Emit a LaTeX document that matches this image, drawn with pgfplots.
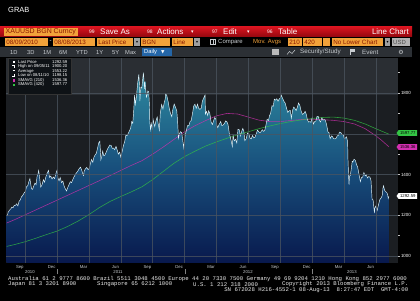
\documentclass[border=0pt]{standalone}
\usepackage{pgfplots}
\usepackage{pgfplotstable}
\pgfplotsset{compat=1.18}
\usepackage{fontspec}
\setmainfont{Liberation Sans}
\newfontfamily\mono{Liberation Mono}
\newfontfamily\dv{DejaVu Sans}
\definecolor{bbredT}{HTML}{D8141F}
\definecolor{bbredB}{HTML}{96080F}
\definecolor{bborange}{HTML}{F2A23A}
\definecolor{bbotext}{HTML}{8A1800}
\definecolor{bar3}{HTML}{2C3035}
\definecolor{btxt}{HTML}{C8CCD0}
\definecolor{dailyblue}{HTML}{2466A8}
\definecolor{plotbg}{HTML}{1B1E22}
\definecolor{plotbgtop}{HTML}{2A2E33}
\definecolor{fillTop}{HTML}{2E8AA0}
\definecolor{fillMid}{HTML}{184F7C}
\definecolor{fillBot}{HTML}{08184C}
\definecolor{maMag}{HTML}{D22FB0}
\definecolor{maGrn}{HTML}{33C444}
\definecolor{gridc}{HTML}{4C5560}
\definecolor{legbg}{HTML}{0E1216}
\newcommand{\fs}[1]{\fontsize{#1}{#1}\selectfont}
\newcommand{\obox}[3]{\fill[bborange] (#1,255.2) rectangle (#2,262.8); \node[anchor=west,inner sep=0,text=bbotext,font=\fs{6.3}] at (#1+1.2,259) {#3};}
\newcommand{\ddown}[2]{\fill[gray!75] (#1,255.2) rectangle (#2,262.8); \node[inner sep=0,text=black,font=\dv\fs{4}] at ({(#1+#2)/2},259) {▾};}
\newcommand{\lrow}[3]{\node[anchor=west,inner sep=0,text=white,font=\fs{4.2}] at (18,#1) {#2}; \node[anchor=east,inner sep=0,text=white,font=\fs{4.2}] at (67.5,#1) {#3};}

\pgfplotstableread{
x y
7.26 960
7.26 1200
7.33 1198
7.40 1215
7.50 1222
7.58 1228
7.66 1232
7.75 1240
7.87 1237
7.97 1248
8.10 1249
8.20 1256
8.32 1246
8.43 1268
8.55 1276
8.65 1290
8.77 1297
8.90 1309
9.03 1318
9.13 1340
9.25 1345
9.35 1365
9.45 1380
9.53 1352
9.60 1330
9.70 1327
9.80 1342
9.93 1358
10.03 1350
10.13 1393
10.22 1405
10.27 1420
10.33 1400
10.40 1367
10.47 1338
10.55 1345
10.60 1351
10.72 1375
10.83 1362
10.95 1388
11.07 1406
11.20 1420
11.30 1385
11.42 1392
11.53 1378
11.65 1388
11.77 1380
11.90 1405
12.00 1421
12.10 1380
12.20 1369
12.30 1385
12.43 1360
12.55 1368
12.67 1343
12.78 1330
12.90 1319
13.00 1335
13.13 1350
13.25 1365
13.37 1360
13.48 1375
13.60 1388
13.72 1400
13.86 1410
13.97 1418
14.10 1430
14.22 1436
14.33 1420
14.45 1400
14.50 1395
14.56 1418
14.68 1428
14.80 1435
14.92 1424
15.03 1429
15.15 1455
15.25 1474
15.37 1460
15.48 1486
15.60 1497
15.70 1504
15.82 1530
15.93 1556
16.03 1563
16.08 1520
16.13 1473
16.22 1490
16.30 1515
16.40 1492
16.50 1495
16.63 1510
16.75 1525
16.87 1536
16.98 1545
17.10 1542
17.20 1528
17.32 1530
17.43 1522
17.55 1538
17.67 1520
17.77 1500
17.90 1510
18.00 1486
18.12 1510
18.25 1542
18.37 1562
18.48 1593
18.58 1590
18.70 1601
18.82 1615
18.93 1628
19.03 1660
19.13 1651
19.22 1715
19.30 1790
19.37 1745
19.47 1780
19.55 1825
19.60 1852
19.66 1875
19.70 1891
19.76 1840
19.80 1760
19.85 1800
19.90 1828
19.98 1825
20.05 1860
20.13 1900
20.17 1873
20.22 1820
20.27 1856
20.35 1815
20.42 1780
20.47 1788
20.55 1810
20.63 1805
20.70 1740
20.73 1657
20.80 1620
20.87 1650
20.97 1624
21.05 1670
21.10 1656
21.20 1636
21.32 1665
21.43 1682
21.52 1650
21.63 1618
21.72 1700
21.85 1744
21.97 1722
22.10 1755
22.18 1770
22.23 1795
22.33 1788
22.45 1760
22.57 1723
22.68 1700
22.80 1684
22.90 1720
23.03 1746
23.15 1730
23.27 1713
23.35 1660
23.43 1578
23.50 1598
23.62 1610
23.73 1606
23.83 1570
23.93 1531
24.05 1590
24.17 1616
24.28 1640
24.40 1639
24.52 1660
24.63 1665
24.75 1700
24.87 1737
24.98 1745
25.10 1725
25.22 1745
25.33 1725
25.45 1720
25.57 1725
25.68 1760
25.80 1775
25.93 1790
25.97 1697
26.08 1710
26.18 1690
26.27 1713
26.38 1700
26.50 1658
26.62 1645
26.73 1663
26.85 1680
26.97 1669
27.05 1640
27.13 1630
27.25 1645
27.40 1660
27.52 1640
27.63 1643
27.75 1650
27.87 1663
27.98 1660
28.10 1644
28.22 1600
28.33 1580
28.43 1555
28.50 1538
28.57 1592
28.68 1565
28.80 1573
28.92 1555
29.03 1622
29.15 1620
29.25 1590
29.37 1610
29.48 1626
29.58 1615
29.67 1566
29.80 1575
29.93 1604
30.05 1600
30.17 1578
30.28 1575
30.40 1592
30.52 1580
30.63 1583
30.75 1600
30.87 1618
30.98 1610
31.10 1605
31.22 1612
31.32 1620
31.43 1612
31.55 1616
31.65 1640
31.77 1671
31.90 1665
32.00 1690
32.10 1700
32.23 1738
32.35 1735
32.45 1770
32.57 1765
32.68 1772
32.80 1760
32.92 1772
33.02 1775
33.10 1790
33.22 1775
33.37 1758
33.48 1750
33.60 1725
33.72 1705
33.83 1712
33.95 1715
34.05 1676
34.17 1715
34.28 1731
34.38 1725
34.50 1714
34.62 1730
34.73 1751
34.85 1740
34.97 1712
35.10 1695
35.23 1700
35.35 1710
35.45 1697
35.57 1668
35.68 1657
35.80 1660
35.90 1656
36.02 1680
36.13 1648
36.25 1660
36.35 1662
36.47 1685
36.58 1685
36.70 1665
36.80 1658
36.92 1678
37.03 1667
37.15 1670
37.25 1667
37.37 1645
37.50 1609
37.60 1605
37.70 1576
37.83 1590
37.93 1585
38.03 1576
38.15 1575
38.25 1577
38.37 1590
38.48 1592
38.58 1608
38.70 1607
38.82 1595
38.93 1596
39.05 1575
39.15 1580
39.25 1585
39.35 1560
39.38 1477
39.45 1380
39.48 1350
39.50 1368
39.55 1395
39.60 1395
39.70 1430
39.78 1465
39.85 1462
39.95 1475
40.08 1469
40.18 1450
40.30 1435
40.42 1400
40.55 1365
40.65 1385
40.77 1387
40.88 1410
41.00 1393
41.10 1400
41.22 1383
41.33 1390
41.45 1387
41.55 1370
41.65 1278
41.75 1275
41.87 1210
41.90 1234
42.00 1245
42.13 1223
42.25 1250
42.38 1277
42.50 1285
42.60 1295
42.68 1335
42.73 1345
42.83 1322
42.95 1315
43.05 1310
43.12 1300
43.17 1282
43.23 1292
43.23 960
}\price

\pgfplotstableread{
x y
7.26 1162
8 1178
9 1202
10 1226
11 1250
12 1274
13 1298
14 1322
15 1346
16 1370
17 1395
18 1420
19 1445
20 1468
21 1500
22 1535
23 1572
24 1610
25 1640
26 1665
27 1688
28 1700
29 1697
30 1682
31 1667
32 1660
33 1660
34 1665
35 1670
36 1671
37 1669
38 1666
39 1660
40 1648
41 1625
42 1590
42.5 1570
43.23 1536
}\magdata

\pgfplotstableread{
x y
7.26 1047
8 1056
9 1070
10 1087
11 1105
12 1122
13 1145
14 1172
15 1203
16 1238
17 1268
18 1292
19 1315
20 1340
21 1375
22 1415
23 1455
24 1488
25 1515
26 1540
27 1560
28 1578
29 1595
30 1610
31 1625
32 1638
33 1650
34 1660
35 1668
36 1675
37 1680
38 1682
39 1677
40 1666
41 1648
42 1625
43.23 1598
}\grndata

\begin{document}
\begin{tikzpicture}[x=1bp,y=1bp]
\fill[black] (0,0) rectangle (420,301);
% header
\node[anchor=west,inner sep=0,text=white,font=\fs{7.5}] at (8,291) {GRAB};
% red toolbar
\shade[top color=bbredT, bottom color=bbredB] (0,264.5) rectangle (412,274);
\fill[bborange] (4,265.2) rectangle (78,273.3);
\node[anchor=west,inner sep=0,text=bbotext,font=\fs{7}] at (5.5,269.2) {XAUUSD BGN Curncy};
\node[anchor=west,inner sep=0,text=white,font=\fs{5}] at (89,269.2) {99};
\node[anchor=west,inner sep=0,text=white,font=\fs{8}] at (100,269.2) {Save As};
\node[anchor=west,inner sep=0,text=white,font=\fs{5}] at (147,269.2) {98};
\node[anchor=west,inner sep=0,text=white,font=\fs{8}] at (157,269.2) {Actions};
\node[anchor=west,inner sep=0,text=white,font=\dv\fs{5}] at (191,269.2) {▾};
\node[anchor=west,inner sep=0,text=white,font=\fs{5}] at (212,269.2) {97};
\node[anchor=west,inner sep=0,text=white,font=\fs{8}] at (223,269.2) {Edit};
\node[anchor=west,inner sep=0,text=white,font=\dv\fs{5}] at (247,269.2) {▾};
\node[anchor=west,inner sep=0,text=white,font=\fs{5}] at (267,269.2) {96};
\node[anchor=west,inner sep=0,text=white,font=\fs{8}] at (278,269.2) {Table};
\node[anchor=east,inner sep=0,text=white,font=\fs{8}] at (409,269.2) {Line Chart};
% second row
\obox{5}{48}{08/09/2010}
\node[inner sep=0,text=white,font=\fs{6}] at (50.5,259) {-};
\obox{53}{95}{08/08/2013}
\obox{97}{133}{Last Price}
\ddown{134}{140}
\obox{141}{170}{BGN}
\obox{172}{193}{Line}
\ddown{194}{200}
\draw[btxt,line width=0.4pt] (210.5,256.5) rectangle (215.5,261.5);
\draw[btxt,line width=0.4pt] (213,256.5) -- (213,261.5);
\node[anchor=west,inner sep=0,text=btxt,font=\fs{6}] at (218,259) {Compare};
\node[anchor=west,inner sep=0,text=bborange,font=\fs{6}] at (253,259) {Mov. Avgs};
\obox{288}{302}{210}
\obox{303}{322}{420}
\obox{323}{330}{}
\obox{332}{383}{No Lower Chart}
\ddown{385}{390}
\fill[gray!60] (392,255.2) rectangle (410,262.8);
\node[anchor=west,inner sep=0,text=black!70,font=\fs{6}] at (393,259) {USD};
% third row
\fill[bar3] (0,244) rectangle (412,253.6);
\foreach \xx/\tt in {10/1D,27/3D,43/1M,59/6M,76/YTD,96/1Y,112/5Y,125/Max}{
  \node[anchor=west,inner sep=0,text=btxt,font=\fs{5.8}] at (\xx,248.8) {\tt};
}
\fill[dailyblue] (142,244.6) rectangle (172,253);
\node[anchor=west,inner sep=0,text=white,font=\fs{5.8}] at (144,248.8) {Daily};
\node[anchor=west,inner sep=0,text=white,font=\dv\fs{4.5}] at (161,248.8) {▼};
\fill[gray!55] (272,246) rectangle (279,251.5);
\draw[btxt,line width=0.5pt] (287,246.5) -- (289.5,249.5) -- (292,247.5) -- (295,251);
\node[anchor=west,inner sep=0,text=btxt,font=\fs{6.3}] at (300,248.8) {Security/Study};
\fill[btxt] (350,246) rectangle (351,251.5);
\fill[btxt] (351,249) rectangle (355,251.5);
\node[anchor=west,inner sep=0,text=btxt,font=\fs{6.3}] at (362,248.8) {Event};
\node[inner sep=0,text=btxt,font=\dv\fs{6}] at (401,248.8) {⚙};
% chart
\begin{axis}[
  at={(6bp,38bp)}, anchor=south west,
  scale only axis, width=392bp, height=205bp,
  xmin=7.2, xmax=44.09, ymin=965.6, ymax=1972,
  axis line style={draw=none},
  axis background/.style={fill=plotbg},
  axis on top,
  ytick={1000,1200,1400,1600,1800},
  yticklabels={1000,1200,1400,{},1800},
  minor ytick={1100,1300,1500,1700,1900},
  ytick pos=right, yticklabel pos=right, tick align=outside,
  major tick length=2bp, minor tick length=1.5bp,
  ytick style={white!75!black, line width=0.4pt},
  xtick style={draw=none},
  ymajorgrids,
  major grid style={gridc, line width=0.35pt, opacity=0.75},
  minor grid style={gridc, line width=0.35pt, opacity=0.75},
  yticklabel style={font=\fs{4.5}, text=white, inner sep=0.8pt},
  xtick={8.5,11.5,...,41.5},
  xticklabels={Sep,Dec,Mar,Jun,Sep,Dec,Mar,Jun,Sep,Dec,Mar,Jun},
  minor xtick={9,12,...,42},
  xminorgrids,
  xticklabel style={font=\fs{4.3}, text=btxt, inner sep=0.6pt, anchor=north},
]
\fill[plotbgtop] (axis cs:7.2,1790) rectangle (axis cs:44.09,1972);
\addplot[draw=none, top color=fillTop, bottom color=fillBot, middle color=fillMid] table {\price};
\addplot[maMag, line width=0.6pt, opacity=0.75] table {\magdata};
\addplot[maGrn, line width=0.6pt, opacity=0.75] table {\grndata};
\addplot[color=white!88!cyan, line width=0.45pt, restrict y to domain=1050:2000] table {\price};
\end{axis}
% years
\foreach \xx/\tt in {30/2010,118/2011,248/2012,352/2013}{
  \node[inner sep=0,text=btxt,font=\fs{4.3}] at (\xx,29) {\tt};
}
\foreach \xx in {57,185,312}{\draw[gray,line width=0.4pt] (\xx,26.5) -- (\xx,32);}
% right tags
\fill[maGrn] (396.5,168) -- (398.5,170.8) -- (417,170.8) -- (417,165.2) -- (398.5,165.2) -- cycle;
\node[inner sep=0,text=black,font=\fs{4.3}] at (407.8,168) {1597.77};
\fill[maMag] (396.5,154) -- (398.5,156.8) -- (417,156.8) -- (417,151.2) -- (398.5,151.2) -- cycle;
\node[inner sep=0,text=black,font=\fs{4.3}] at (407.8,154) {1536.36};
\fill[white] (396.5,105) -- (398.5,107.8) -- (417,107.8) -- (417,102.2) -- (398.5,102.2) -- cycle;
\node[inner sep=0,text=black,font=\fs{4.3}] at (407.8,105) {1292.59};
% legend box
\fill[legbg] (8,207) rectangle (71,243);
\draw[gray!40!black,line width=0.4pt] (8,207) rectangle (71,243);
\fill[white] (12.5,237.8) rectangle (15,240.3);
\draw[white,line width=0.4pt] (12.3,235.7) -- (15.2,235.7) (13.75,235.7) -- (13.75,233.2);
\draw[white,line width=0.5pt] (12.5,230.5) -- (15,230.5);
\draw[white,line width=0.4pt] (12.3,224.8) -- (15.2,224.8) (13.75,224.8) -- (13.75,227.3);
\fill[maMag] (12.5,219.2) rectangle (15,221.7);
\fill[maGrn] (12.5,214.7) rectangle (15,217.2);
\lrow{239}{Last Price}{1292.59}
\lrow{234.5}{High on 09/05/11}{1900.20}
\lrow{230}{Average}{1553.22}
\lrow{225.5}{Low on 08/11/10}{1198.15}
\lrow{221}{SMAVG (210)}{1536.36}
\lrow{216.5}{SMAVG (420)}{1597.77}
% footer
\node[anchor=west,inner sep=0,text=white!92!black,font=\mono\fs{5.7}] at (8,22) {Australia 61 2 9777 8600 Brazil 5511 3048 4500 Europe 44 20 7330 7500 Germany 49 69 9204 1210 Hong Kong 852 2977 6000};
\node[anchor=west,inner sep=0,text=white!92!black,font=\mono\fs{5.7}] at (8,16.5) {Japan 81 3 3201 8900};
\node[anchor=west,inner sep=0,text=white!92!black,font=\mono\fs{5.7}] at (97,16.5) {Singapore 65 6212 1000};
\node[anchor=west,inner sep=0,text=white!92!black,font=\mono\fs{5.7}] at (193,16.5) {U.S. 1 212 318 2000};
\node[anchor=east,inner sep=0,text=white!92!black,font=\mono\fs{5.7}] at (408.5,16.5) {Copyright 2013 Bloomberg Finance L.P.};
\node[anchor=east,inner sep=0,text=white!92!black,font=\mono\fs{5.7}] at (408.5,10.5) {SN 672028 H216-4552-1 08-Aug-13 \ 8:27:47 EDT \ GMT-4:00};
\pgfresetboundingbox
\useasboundingbox (0,0) rectangle (420,301);
\end{tikzpicture}
\end{document}
